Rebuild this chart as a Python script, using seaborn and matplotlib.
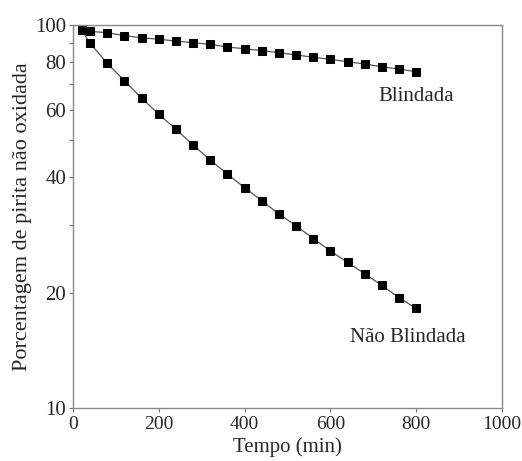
import pandas as pd
import matplotlib
matplotlib.use('Agg')
import matplotlib.pyplot as plt
import matplotlib.ticker as mticker
import seaborn as sns

# dados (tempo em min, % de pirita não oxidada)
tempo = [20, 40, 80, 120, 160, 200, 240, 280, 320, 360, 400,
         440, 480, 520, 560, 600, 640, 680, 720, 760, 800]
blindada = [97.0, 96.2, 95.5, 93.8, 92.6, 91.8, 90.8, 89.9, 89.0, 87.6, 86.7,
            85.7, 84.7, 83.5, 82.4, 81.3, 80.2, 79.1, 77.8, 76.7, 75.5]
nao_blindada = [97.0, 89.6, 79.4, 71.5, 64.4, 58.5, 53.4, 48.6, 44.4, 40.8, 37.6,
                34.8, 32.1, 29.9, 27.7, 25.7, 24.0, 22.4, 20.9, 19.4, 18.2]

y_ticks = [10, 20, 40, 60, 80, 100]
y_minor = [30, 50, 70, 90]
x_ticks = [0, 200, 400, 600, 800, 1000]

df = pd.DataFrame({
    'tempo': tempo * 2,
    'pct': blindada + nao_blindada,
    'serie': ['Blindada'] * len(tempo) + ['Não Blindada'] * len(tempo),
})

sns.set_style('ticks')
plt.rcParams['font.family'] = ['Liberation Serif', 'DejaVu Serif']

fig = plt.figure(figsize=(5.22, 4.61), dpi=100)
ax = fig.add_axes([73 / 522, 1 - 408 / 461, (502 - 73) / 522, (408 - 25) / 461])

sns.lineplot(data=df, x='tempo', y='pct', hue='serie', style='serie',
             palette=['#555555', '#555555'], markers=['s', 's'], dashes=False,
             linewidth=0.9, markersize=6, markerfacecolor='black',
             markeredgecolor='black', legend=False, ax=ax)

ax.set_yscale('log')
ax.set_xlim(0, 1000)
ax.set_ylim(10, 100)
ax.yaxis.set_major_locator(mticker.FixedLocator(y_ticks))
ax.yaxis.set_major_formatter(mticker.FixedFormatter([str(v) for v in y_ticks]))
ax.yaxis.set_minor_locator(mticker.FixedLocator(y_minor))
ax.yaxis.set_minor_formatter(mticker.NullFormatter())
ax.set_xticks(x_ticks)

ax.tick_params(axis='both', which='both', direction='out', length=3,
               width=0.8, color='#777777', labelsize=15, pad=2)
ax.tick_params(axis='x', labelsize=14, pad=3)
for sp in ax.spines.values():
    sp.set_color('#888888')
    sp.set_linewidth(1.0)

ax.set_xlabel('Tempo (min)', fontsize=15, labelpad=3)
ax.set_ylabel('Porcentagem de pirita não oxidada', fontsize=16, labelpad=2)

ax.text(800, 64.9, 'Blindada', fontsize=15, ha='center', va='center')
ax.text(780, 15.3, 'Não Blindada', fontsize=15, ha='center', va='center')

fig.savefig('out.png', dpi=100)
